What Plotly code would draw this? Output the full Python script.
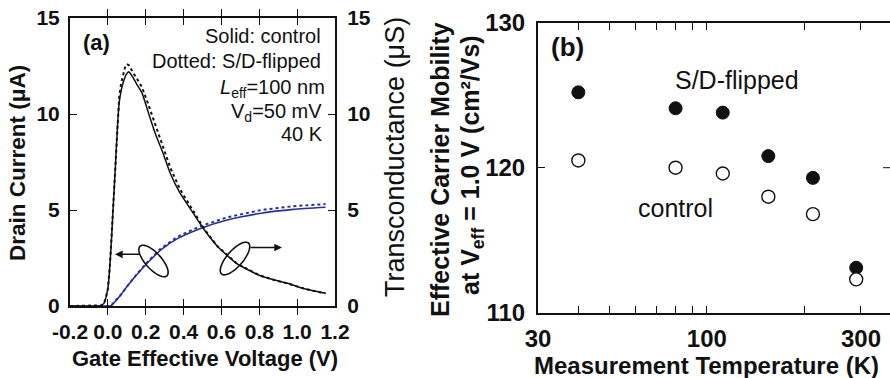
import numpy as np
import plotly.graph_objects as go

# ---------------- data: panel (a) ----------------
# Transconductance (uS) vs gate effective voltage (V) -- black
vg_gm = [-0.2, -0.05, -0.035, -0.02, -0.01, 0.0, 0.01, 0.02, 0.03, 0.04, 0.05, 0.06, 0.07, 0.08,
         0.09, 0.10, 0.11, 0.12, 0.13, 0.15, 0.18, 0.21, 0.25, 0.29, 0.33, 0.38, 0.45, 0.51,
         0.58, 0.68, 0.80, 0.88, 0.95, 1.02, 1.09, 1.15]
gm_control = [0, 0, 0.03, 0.15, 0.45, 0.9, 2.0, 3.6, 5.5, 7.3, 9.2, 10.6, 11.2, 11.6,
              11.9, 12.1, 12.2, 12.1, 11.95, 11.6, 11.1, 10.2, 9.0, 8.0, 6.9, 5.9, 4.85, 3.96,
              3.1, 2.22, 1.6, 1.35, 1.18, 0.95, 0.78, 0.66]
gm_flipped = [0, 0, 0.03, 0.15, 0.45, 0.9, 2.0, 3.7, 5.7, 7.6, 9.5, 10.9, 11.6, 12.1,
              12.4, 12.6, 12.55, 12.4, 12.2, 11.9, 11.4, 10.6, 9.5, 8.4, 7.2, 6.1, 4.95, 4.0,
              3.1, 2.22, 1.6, 1.35, 1.18, 0.95, 0.78, 0.66]

# Drain current (uA) vs gate effective voltage (V) -- blue
vg_id = [-0.2, 0.0, 0.012, 0.02, 0.04, 0.07, 0.10, 0.15, 0.21, 0.28, 0.37, 0.49, 0.63, 0.81, 0.98, 1.15]
id_control = [0, 0, 0.0, 0.05, 0.25, 0.6, 1.0, 1.6, 2.25, 2.92, 3.52, 4.04, 4.48, 4.83, 5.03, 5.14]
id_flipped = [0, 0, 0.0, 0.05, 0.25, 0.6, 1.0, 1.62, 2.3, 3.0, 3.62, 4.16, 4.62, 5.0, 5.2, 5.31]

x_ticks_a = [-0.2, 0.0, 0.2, 0.4, 0.6, 0.8, 1.0, 1.2]
x_ticktext_a = ["-0.2", "0.0", "0.2", "0.4", "0.6", "0.8", "1.0", "1.2"]
y_ticks_a = [0, 5, 10, 15]

# ---------------- data: panel (b) ----------------
temperature = [40, 80, 112, 155, 213, 290]
mu_flipped = [125.2, 124.1, 123.8, 120.8, 119.3, 113.1]
mu_control = [120.5, 120.0, 119.6, 118.0, 116.8, 112.3]

x_ticks_b = [30, 40, 50, 60, 70, 80, 90, 100, 200, 300]
x_ticktext_b = ["30", "", "", "", "", "", "", "100", "", "300"]
y_ticks_b = [110, 120, 130]

# ---------------- layout geometry (pixels) ----------------
W, H = 890, 378
FONT = "Liberation Sans, Arial, sans-serif"
BLACK = "#111111"
BLUE = "#2a3190"

ax_l, ax_r, ax_t, ax_b = 70, 335, 18, 306
bx_l, bx_r, bx_t, bx_b = 538, 890, 22.7, 312.7


def px(x):
    return x / W


def py(y):
    return 1 - y / H


fig = go.Figure()

# panel (a) traces
fig.add_trace(go.Scatter(x=vg_gm, y=gm_flipped, mode="lines", yaxis="y2", xaxis="x",
                         line=dict(color=BLACK, width=2, dash="dot"), showlegend=False))
fig.add_trace(go.Scatter(x=vg_gm, y=gm_control, mode="lines", yaxis="y2", xaxis="x",
                         line=dict(color=BLACK, width=1.5, shape="spline", smoothing=0.6),
                         showlegend=False))
fig.add_trace(go.Scatter(x=vg_id, y=id_flipped, mode="lines", yaxis="y", xaxis="x",
                         line=dict(color=BLUE, width=2, dash="dot"), showlegend=False))
fig.add_trace(go.Scatter(x=vg_id, y=id_control, mode="lines", yaxis="y", xaxis="x",
                         line=dict(color=BLUE, width=1.6, shape="spline", smoothing=0.6),
                         showlegend=False))

# panel (b) traces
fig.add_trace(go.Scatter(x=temperature, y=mu_flipped, mode="markers", xaxis="x2", yaxis="y3",
                         marker=dict(size=13, color=BLACK, line=dict(color=BLACK, width=1)),
                         showlegend=False))
fig.add_trace(go.Scatter(x=temperature, y=mu_control, mode="markers", xaxis="x2", yaxis="y3",
                         marker=dict(size=13, color="white", line=dict(color=BLACK, width=1.4)),
                         showlegend=False))

tickfont_a = dict(family=FONT, size=21, color=BLACK)
tickfont_b = dict(family=FONT, size=24, color=BLACK)

common = dict(ticks="inside", ticklen=7, tickwidth=1, tickcolor=BLACK,
              showline=True, linewidth=2, linecolor=BLACK,
              showgrid=False, zeroline=False, automargin=False)

fig.update_layout(
    width=W, height=H, autosize=False,
    margin=dict(l=0, r=0, t=0, b=0, pad=0),
    paper_bgcolor="white", plot_bgcolor="white",
    font=dict(family=FONT, color=BLACK),
    xaxis=dict(domain=[px(ax_l), px(ax_r)], range=[-0.2, 1.2], anchor="y",
               tickvals=x_ticks_a, ticktext=["<b>%s</b>" % t for t in x_ticktext_a],
               mirror="allticks", tickfont=tickfont_a, ticklabelstandoff=6, **common),
    yaxis=dict(domain=[py(ax_b), py(ax_t)], range=[0, 15], anchor="x",
               tickvals=y_ticks_a, ticktext=["<b>%d</b>" % t for t in y_ticks_a],
               tickfont=tickfont_a, ticklabelstandoff=4, **common),
    yaxis2=dict(range=[0, 15], overlaying="y", side="right", anchor="x",
                tickvals=y_ticks_a, ticktext=["<b>%d</b>" % t for t in y_ticks_a],
                tickfont=tickfont_a, ticklabelstandoff=6, **common),
    xaxis2=dict(domain=[px(bx_l), 1.0], type="log",
                range=[np.log10(30), np.log10(369)], anchor="y3",
                tickvals=x_ticks_b, ticktext=["<b>%s</b>" % t if t else "" for t in x_ticktext_b],
                mirror="allticks", tickfont=tickfont_b, ticklabelstandoff=3, **common),
    yaxis3=dict(domain=[py(bx_b), py(bx_t)], range=[110, 130], anchor="x2",
                tickvals=y_ticks_b, ticktext=["<b>%d</b>" % t for t in y_ticks_b],
                tickfont=tickfont_b, ticklabelstandoff=6, **common),
)


# ---------- decorative loops and arrows in panel (a) ----------
def pix_to_a(xp, yp):
    return -0.2 + (xp - ax_l) / (ax_r - ax_l) * 1.4, (ax_b - yp) / (ax_b - ax_t) * 15


def ellipse_path(cx, cy, a, b, ang_deg, t0=0.0, t1=2 * np.pi):
    th = np.radians(ang_deg)
    t = np.linspace(t0, t1, 60)
    xs = cx + a * np.cos(t) * np.cos(th) - b * np.sin(t) * np.sin(th)
    ys = cy + a * np.cos(t) * np.sin(th) + b * np.sin(t) * np.cos(th)
    pts = [pix_to_a(x, y) for x, y in zip(xs, ys)]
    return "M " + " L ".join("%.5f,%.5f" % p for p in pts)


fig.add_shape(type="path", path=ellipse_path(153.5, 261, 20, 8, 48), xref="x", yref="y",
              line=dict(color=BLACK, width=1.6))
fig.add_shape(type="path", path=ellipse_path(235, 258.5, 20.5, 8, 131), xref="x", yref="y",
              line=dict(color=BLACK, width=1.6))

h1 = pix_to_a(115, 254.3)
t1 = pix_to_a(141, 254.3)
h2 = pix_to_a(282, 247.5)
t2 = pix_to_a(249, 247.5)
for (hx, hy), (tx, ty) in [(h1, t1), (h2, t2)]:
    fig.add_annotation(x=hx, y=hy, ax=tx, ay=ty, xref="x", yref="y", axref="x", ayref="y",
                       text="", showarrow=True, arrowhead=2, arrowsize=1.1, arrowwidth=1.4,
                       arrowcolor=BLACK)

# right tick on clipped right border of panel (b)
fig.add_shape(type="line", xref="paper", yref="y3", x0=px(883), x1=1.0, y0=120, y1=120,
              line=dict(color=BLACK, width=1))


# ---------- text annotations ----------
def label(text, x, y, size, xanchor="center", yanchor="middle", angle=0):
    fig.add_annotation(text=text, x=px(x), y=py(y), xref="paper", yref="paper",
                       showarrow=False, xanchor=xanchor, yanchor=yanchor, textangle=angle,
                       font=dict(family=FONT, size=size, color=BLACK))


# axis titles
label("<b>Drain Current (μA)</b>", 18, 163, 22.5, angle=-90)
label("Transconductance (μS)", 395, 157, 27, angle=-90)
label("<b>Gate Effective Voltage (V)</b>", 205, 358, 22)
label("<b>Effective Carrier Mobility</b>", 440, 170, 25, angle=-90)
label("<b>at V<sub>eff</sub> = 1.0 V (cm²/Vs)</b>", 472, 165, 25, angle=-90)
label("<b>Measurement Temperature (K)</b>", 706, 365, 24)

# panel (a) notes
label("<b>(a)</b>", 96, 43, 22)
label("Solid: control", 323, 36, 20, xanchor="right")
label("Dotted: S/D-flipped", 323, 61, 20, xanchor="right")
label("<i>L</i><sub>eff</sub>=100 nm", 327, 88, 20, xanchor="right")
label("V<sub>d</sub>=50 mV", 324, 112, 20, xanchor="right")
label("40 K", 325, 134, 20, xanchor="right")

# panel (b) notes
label("<b>(b)</b>", 567, 47, 26)
label("S/D-flipped", 737, 80, 25)
label("control", 675, 208, 25)

fig.write_html("out.html", config={"displayModeBar": False},
               post_script="document.body.style.margin='0';document.body.style.overflow='hidden';")
